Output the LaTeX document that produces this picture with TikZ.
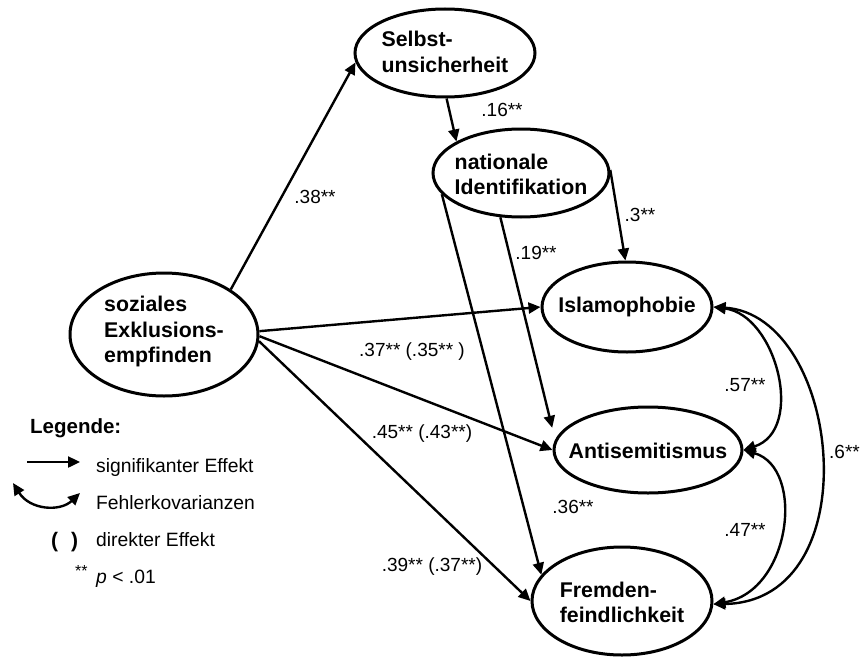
\documentclass[tikz,border=0pt]{standalone}
\usepackage{fontspec}
\setmainfont{Liberation Sans}
\usetikzlibrary{shapes.geometric,arrows.meta}

% Label set inside an ellipse: left-aligned lines, first baseline raised by #1
\newcommand\lvlabel[2][0pt]{\raisebox{#1}[0pt][0pt]{\makebox[0pt]{\begin{tabular}[t]{@{}l@{}}#2\end{tabular}}}}

\begin{document}
\begin{tikzpicture}[x=1pt,y=-1pt,
  latent/.style={ellipse, draw, line width=3pt, inner sep=0pt,
    font=\bfseries\fontsize{21.3}{25.5}\selectfont},
  effect/.style={line width=2.4pt, -{Triangle[length=12pt,width=11pt]}},
  covar/.style={line width=2.4pt,
    {Triangle[length=12pt,width=11pt]}-{Triangle[length=12pt,width=11pt]}},
  coef/.style={inner sep=0pt, text height=13.6pt, text depth=0pt,
    font=\fontsize{19}{22}\selectfont},
  legtext/.style={anchor=base west, inner sep=0pt,
    font=\fontsize{19.3}{22}\selectfont},
]
\useasboundingbox (0,0) rectangle (861,658);

% latent variables
\node[latent, minimum width=180pt, minimum height=88pt] (selbst) at (445,53)
  {\lvlabel[6pt]{Selbst-\\unsicherheit}};
\node[latent, minimum width=176pt, minimum height=88pt] (nat) at (521,173)
  {\lvlabel[4pt]{nationale\\Identifikation}};
\node[latent, minimum width=188pt, minimum height=123pt] (soz) at (164,334.5)
  {\lvlabel[23pt]{soziales\\Exklusions-\\empfinden}};
\node[latent, minimum width=170pt, minimum height=90pt] (islam) at (627,307)
  {\lvlabel[-5.7pt]{Islamophobie}};
\node[latent, minimum width=188pt, minimum height=86pt] (anti) at (648,450)
  {\lvlabel[-8pt]{Antisemitismus}};
\node[latent, minimum width=180pt, minimum height=108pt] (fremd) at (622,601)
  {\lvlabel[4pt]{Fremden-\\feindlichkeit}};

% directed effects
\draw[effect] (soz.34) -- (selbst.186);
\draw[effect] (selbst.272) -- (nat.154);
\draw[effect] (nat.2) -- (islam.92);
\draw[effect] (nat.245) -- ([xshift=-13pt]anti.165);
\draw[effect] (nat.195) -- (fremd.162);
\draw[effect] (soz.2) -- (islam.west);
\draw[effect] (soz.359) -- (anti.west);
\draw[effect] (soz.356) -- (fremd.west);

% error covariances
\draw[covar] (islam.east) .. controls +(63,8) and +(62,-20) .. (anti.east);
\draw[covar] (anti.east) .. controls +(62,18) and +(78,-13) .. (fremd.358);
\draw[covar] (islam.east) .. controls +(128,8) and +(158,-3) .. (fremd.358);

% coefficients
\node[coef] (b38) at (315,197) {.38**};
\node[coef] (b16) at (502,110) {.16**};
\node[coef] (b3)  at (640,215) {.3**};
\node[coef] (b19) at (536,253) {.19**};
\node[coef] (b36) at (573,507) {.36**};
\node[coef] (b37) at (412,350) {.37** (.35** )};
\node[coef] (b45) at (422,432) {.45** (.43**)};
\node[coef] (b39) at (432,565) {.39** (.37**)};
\node[coef] (b57) at (745,385) {.57**};
\node[coef] (b47) at (745,530) {.47**};
\node[coef, anchor=west] (b6) at (829,452) {.6**};

% legend
\node[anchor=base west, inner sep=0pt, font=\bfseries\fontsize{20.5}{24}\selectfont]
  (leg) at (30,433) {Legende:};
\coordinate (sa) at (27,462);
\coordinate (sb) at (80,462);
\draw[effect] (sa) -- (sb);
\node[legtext] (l1) at (96,472) {signifikanter Effekt};
\coordinate (ca) at (13,483);
\coordinate (cb) at (80,493);
\draw[covar] (ca) .. controls (30,510) and (60,512) .. (cb);
\node[legtext] (l2) at (96,509) {Fehlerkovarianzen};
\node[anchor=base west, inner sep=0pt, font=\bfseries\fontsize{21}{24}\selectfont]
  (par) at (51,547) {(\hspace{13pt})};
\node[legtext] (l3) at (96,546) {direkter Effekt};
\node[anchor=base west, inner sep=0pt, font=\fontsize{16}{18}\selectfont]
  (sig) at (75,576) {**};
\node[legtext] (l4) at (96,583) {\textit{p} < .01};
\end{tikzpicture}
\end{document}
